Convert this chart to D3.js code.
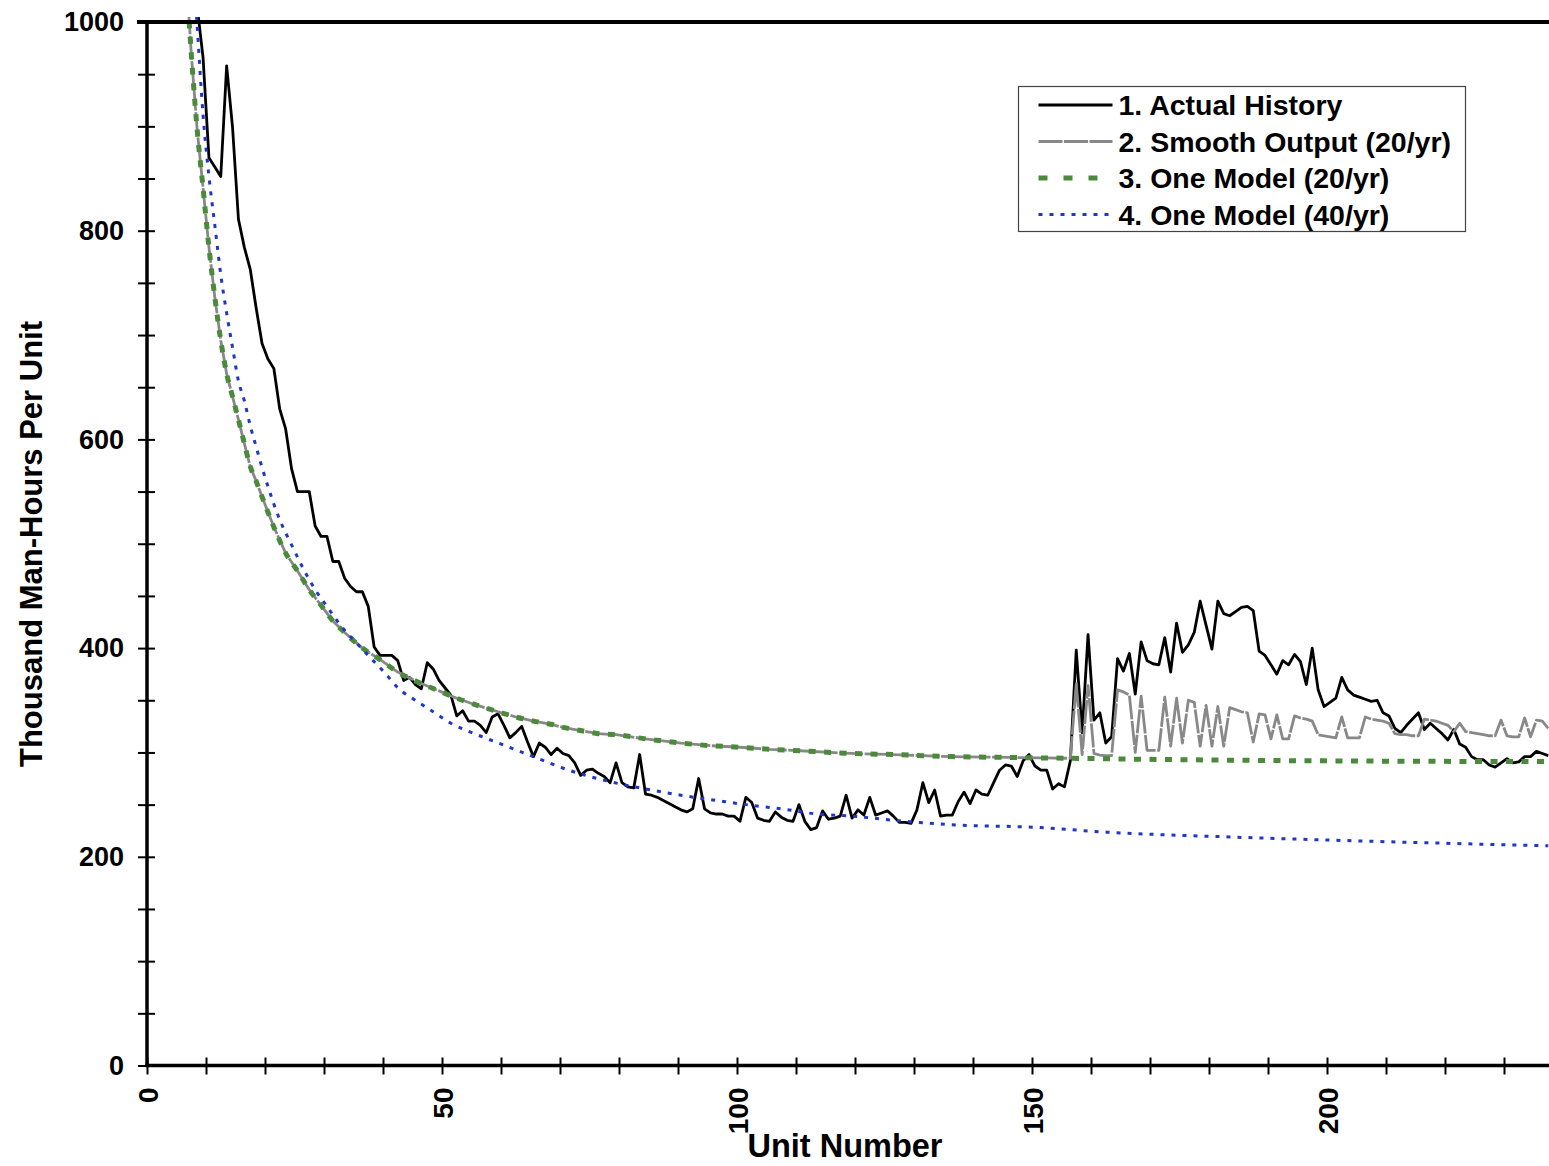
<!DOCTYPE html>
<html>
<head>
<meta charset="utf-8">
<script src="https://cdn.jsdelivr.net/npm/d3@7"></script>
<style>
  body { margin: 0; background: #fff; }
  svg { display: block; font-family: "Liberation Sans", Arial, sans-serif; font-weight: bold; }
</style>
</head>
<body>
<div class="chart"></div>
<script>
// 1. Actual history: one value per unit, starting at unit 9
const historyFirstUnit = 9;
const actualHistory = [
  1015, 966, 870, 861, 852, 958, 899, 811, 784, 763,
  726, 692, 677, 668, 629, 610, 572, 550, 550, 550,
  517, 507, 507, 483, 483, 467, 459, 454, 454, 440,
  401, 393, 393, 393, 388, 369, 372, 365, 361, 386,
  380, 369, 362, 355, 335, 340, 330, 330, 326, 319,
  334, 337, 326, 314, 319, 325, 310, 296, 309, 305,
  298, 304, 299, 297, 290, 278, 283, 284, 280, 277,
  271, 290, 271, 267, 266, 298, 260, 259, 257, 254,
  251, 248, 245, 243, 246, 275, 246, 242, 241, 241,
  239, 239, 234, 257, 252, 237, 235, 234, 243, 238,
  235, 234, 250, 234, 226, 228, 244, 236, 237, 239,
  259, 237, 245, 240, 257, 240, 242, 244, 239, 233,
  233, 232, 245, 271, 252, 264, 239, 240, 240, 253,
  262, 251, 264, 260, 259, 271, 283, 288, 287, 277,
  292, 298, 287, 283, 283, 265, 270, 267, 292, 398,
  319, 413, 331, 338, 309, 315, 390, 378, 395, 356,
  406, 388, 385, 384, 410, 377, 424, 396, 403, 415,
  445, 422, 399, 445, 433, 431, 435, 439, 440, 436,
  397, 393, 384, 375, 388, 384, 394, 387, 365, 400,
  360, 344, 348, 352, 372, 360, 355, 353, 351, 349,
  350, 338, 335, 323, 319, 326, 332, 338, 322, 328,
  323, 318, 312, 322, 308, 305, 296, 293, 293, 288,
  286, 290, 294, 290, 291, 296, 296, 301, 299, 297
];

// 2. Smooth output (20/yr)
const smoothUnits = [
  7, 8, 9, 10, 11, 12, 13, 14, 15, 16, 17, 18, 19, 20, 22, 24, 26, 28, 30, 32,
  34, 37, 40, 43, 47, 50, 53, 56, 60, 63, 66, 69, 71, 74, 77, 80, 85, 91, 96, 101,
  106, 112, 117, 122, 127, 133, 137, 147, 157,
  158, 159, 160, 161, 162, 163, 164, 165, 166, 167, 168, 169, 170, 171, 172, 173, 174, 175, 176, 177,
  178, 179, 180, 181, 182, 183, 184, 185, 186, 187, 188, 189, 190, 191, 192, 193, 194, 195, 196, 197,
  198, 199, 200, 201, 202, 203, 204, 205, 206, 207, 208, 209, 210, 211, 212, 213, 214, 215, 216, 217,
  218, 219, 220, 221, 222, 223, 224, 225, 226, 227, 228, 229, 230, 231, 232, 233, 234, 235, 236, 237, 238
];
const smoothOutput = [
  1060, 970, 897, 841, 784, 736, 695, 663, 641, 619, 596, 574, 560, 545, 516, 491, 474, 456, 441, 426,
  415, 400, 389, 377, 366, 359, 352, 346, 339, 334, 330, 327, 324, 321, 318, 317, 313, 309, 306.5, 305,
  303, 301.4, 299.8, 298.6, 298, 296.7, 296, 295.2, 294.4,
  366, 298, 364, 299, 297.5, 297, 297, 360, 358, 355, 300, 354, 302, 302, 302, 353, 306, 352, 309, 350,
  348, 306, 345, 306, 344, 306, 343, 341, 339, 338, 310, 337, 336, 313, 336, 313, 313, 335, 333, 332,
  330, 317, 316, 315, 314, 334, 314, 314, 314, 334, 332, 331, 330, 328, 318, 317, 317, 316, 316, 332,
  331, 330, 328, 326, 320, 328, 320, 319, 318, 317, 316, 316, 331, 316, 315, 315, 333, 315, 331, 330, 323
];

// 3. One model (20/yr)
const model20Units = [
  7, 8, 9, 10, 11, 12, 13, 14, 15, 16, 17, 18, 19, 20, 22, 24, 26, 28, 30, 32,
  34, 37, 40, 43, 47, 50, 53, 56, 60, 63, 66, 69, 71, 74, 77, 80, 85, 91, 96, 101,
  106, 112, 117, 122, 127, 133, 137, 147, 157, 180, 238
];
const model20 = [
  1060, 970, 897, 841, 784, 736, 695, 663, 641, 619, 596, 574, 560, 545, 516, 491, 474, 456, 441, 426,
  415, 400, 389, 377, 366, 359, 352, 346, 339, 334, 330, 327, 324, 321, 318, 317, 313, 309, 306.5, 305,
  303, 301.4, 299.8, 298.6, 298, 296.7, 296, 295.2, 294.4, 292.8, 291.2
];

// 4. One model (40/yr)
const model40Units = [
  8, 9, 10, 11, 12, 13, 14, 15, 16, 17, 18, 19, 20, 21, 22, 23, 25, 27, 29, 31,
  33, 36, 38, 41, 43, 46, 49, 52, 56, 61, 66, 72, 79, 85, 91, 97, 102, 108, 114, 120,
  127, 136, 152, 162, 184, 201, 238
];
const model40 = [
  1090, 997, 911, 852, 805, 758, 721, 688, 656, 637, 613, 593, 573, 555, 538, 523, 499, 476, 456, 440,
  424, 405, 393, 375, 362, 350, 339, 328, 318, 307, 296, 283, 272, 265, 259, 254, 250, 246, 241, 239,
  235, 231, 228, 224, 219, 216, 210.5
];

const seriesNames = ["1. Actual History", "2. Smooth Output (20/yr)", "3. One Model (20/yr)", "4. One Model (40/yr)"];
const yTicks = d3.range(0, 1001, 50);
const xTicks = d3.range(0, 241, 10);

const width = 1549, height = 1166;

const svg = d3.select(".chart")
    .append("svg")
    .attr("width", width)
    .attr("height", height)
    .attr("viewBox", [0, 0, width, height]);

const xScale = d3.scaleLinear()
    .domain([0, 240])
    .range([147, 147 + 240 * 5.9]);
const yScale = d3.scaleLinear()
    .domain([0, 1000])
    .range([1065.5, 22]);

// units sit in the middle of their category slot
const ux = u => xScale(u - 0.5);

const series = [
    {name: seriesNames[0], data: actualHistory.map((v, i) => [historyFirstUnit + i, v]),
     stroke: "#000", width: 2.8, dash: null, curve: d3.curveLinear},
    {name: seriesNames[1], data: smoothUnits.map((u, i) => [u, smoothOutput[i]]),
     stroke: "#888", width: 2.8, dash: "24,1.5", curve: d3.curveLinear},
    {name: seriesNames[2], data: model20Units.map((u, i) => [u, model20[i]]),
     stroke: "#4a8a3a", width: 5, dash: "7,8.5", curve: d3.curveMonotoneX},
    {name: seriesNames[3], data: model40Units.map((u, i) => [u, model40[i]]),
     stroke: "#1f36c8", width: 3, dash: "4,7", curve: d3.curveMonotoneX}
];

svg.append("defs").append("clipPath")
    .attr("id", "plot")
  .append("rect")
    .attr("x", xScale(0))
    .attr("y", 17)
    .attr("width", width - xScale(0))
    .attr("height", yScale(0) - 17);

const lines = svg.append("g").attr("clip-path", "url(#plot)");

series.forEach(s => {
    const line = d3.line()
        .curve(s.curve)
        .x(d => ux(d[0]))
        .y(d => yScale(d[1]));
    lines.append("path")
        .datum(s.data)
        .attr("fill", "none")
        .attr("stroke", s.stroke)
        .attr("stroke-width", s.width)
        .attr("stroke-dasharray", s.dash)
        .attr("stroke-linejoin", "round")
        .attr("d", line);
});

// axes
const yAxis = g => g
    .attr("transform", `translate(${xScale(0)},0)`)
    .call(d3.axisLeft(yScale).tickValues(yTicks).tickSize(9).tickPadding(14)
        .tickFormat(d => d % 200 === 0 ? d : ""))
    .call(g => g.select(".domain").remove())
    .call(g => g.selectAll(".tick line")
        .attr("x1", 8)
        .attr("stroke", "#000")
        .attr("stroke-width", 2))
    .call(g => g.selectAll(".tick text")
        .attr("fill", "#000")
        .attr("font-size", 27)
        .attr("font-family", "Liberation Sans, Arial, sans-serif")
        .attr("font-weight", "bold"));

const xAxis = g => g
    .attr("transform", `translate(0,${yScale(0)})`)
    .call(d3.axisBottom(xScale).tickValues(xTicks).tickSize(9)
        .tickFormat(d => d % 50 === 0 ? d : ""))
    .call(g => g.select(".domain").remove())
    .call(g => g.selectAll(".tick line")
        .attr("y1", -8)
        .attr("stroke", "#000")
        .attr("stroke-width", 2))
    .call(g => g.selectAll(".tick text")
        .attr("fill", "#000")
        .attr("font-size", 28)
        .attr("font-family", "Liberation Sans, Arial, sans-serif")
        .attr("font-weight", "bold")
        .attr("transform", "rotate(-90)")
        .attr("text-anchor", "end")
        .attr("x", -22)
        .attr("y", 0)
        .attr("dy", "0.36em"));

svg.append("g").call(xAxis);
svg.append("g").call(yAxis);

// axis lines and top border
svg.append("line")
    .attr("x1", xScale(0)).attr("x2", xScale(0))
    .attr("y1", yScale(1000)).attr("y2", yScale(0) + 1.5)
    .attr("stroke", "#000").attr("stroke-width", 3.5);
svg.append("line")
    .attr("x1", xScale(0) - 1.5).attr("x2", width)
    .attr("y1", yScale(0)).attr("y2", yScale(0))
    .attr("stroke", "#000").attr("stroke-width", 3.5);
svg.append("line")
    .attr("x1", 137).attr("x2", width)
    .attr("y1", yScale(1000)).attr("y2", yScale(1000))
    .attr("stroke", "#000").attr("stroke-width", 4);

// axis titles
svg.append("text")
    .attr("x", 845)
    .attr("y", 1157)
    .attr("text-anchor", "middle")
    .attr("font-size", 32.5)
    .text("Unit Number");
svg.append("text")
    .attr("transform", "translate(42,544) rotate(-90)")
    .attr("text-anchor", "middle")
    .attr("font-size", 31)
    .text("Thousand Man-Hours Per Unit");

// legend
const legend = svg.append("g").attr("transform", "translate(1018.5,86.5)");
legend.append("rect")
    .attr("width", 447)
    .attr("height", 145)
    .attr("fill", "#fff")
    .attr("stroke", "#444")
    .attr("stroke-width", 1.2);

const item = legend.selectAll("g")
    .data(series)
    .join("g")
    .attr("transform", (d, i) => `translate(0,${18.5 + i * 36.5})`);
item.append("line")
    .attr("x1", 20).attr("x2", 94)
    .attr("stroke", d => d.stroke)
    .attr("stroke-width", d => d.width)
    .attr("stroke-dasharray", (d, i) => i === 2 ? "9,16" : d.dash);
item.append("text")
    .attr("x", 100)
    .attr("dy", "0.36em")
    .attr("font-size", 28.5)
    .text(d => d.name);
</script>
</body>
</html>
